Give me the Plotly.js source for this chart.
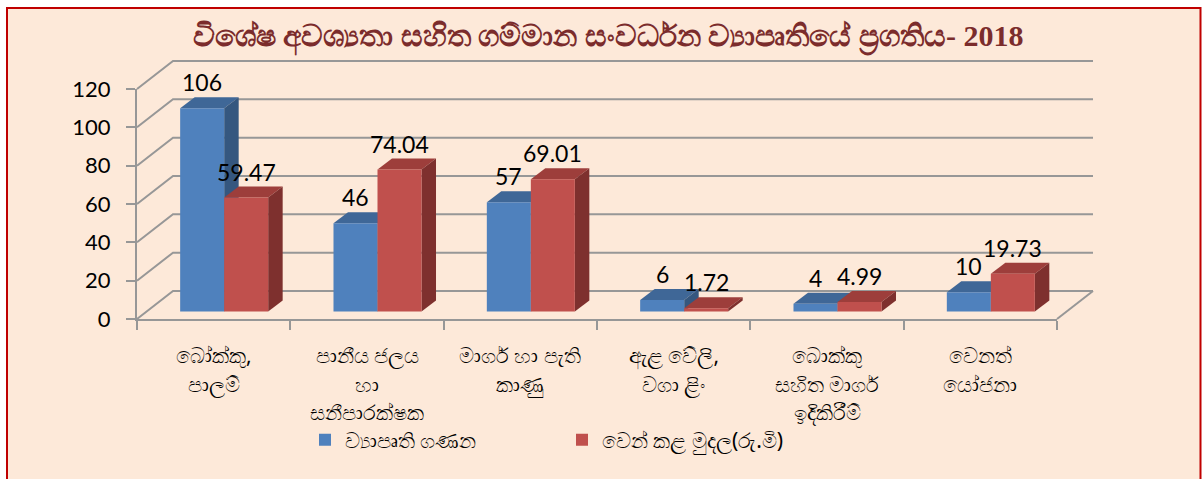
<!DOCTYPE html>
<html>
<head>
<meta charset="utf-8">
<script src="https://cdn.plot.ly/plotly-3.0.1.min.js"></script>
<style>html,body{margin:0;padding:0;background:#fff;}#chart{width:1202px;height:479px;}</style>
</head>
<body>
<div id="chart"></div>
<script>
// ---- data ----
const titleText = 'විශේෂ අවශ්‍යතා සහිත ගම්මාන සංවර්ධන ව්‍යාපෘතියේ ප්‍රගතිය- 2018';
const categoryLines = [
  ['බෝක්කු,', 'පාලම්'],
  ['පානීය ජලය', 'හා', 'සනීපාරක්ෂක'],
  ['මාර්ග හා පැති', 'කාණු'],
  ['ඇළ වේලි,', 'වගා ළිං'],
  ['බොක්කු', 'සහිත මාර්ග', 'ඉදිකිරීම්'],
  ['වෙනත්', 'යෝජනා']
];
const seriesNames = ['ව්‍යාපෘති ගණන', 'වෙන් කළ මුදල(රු.මි)'];
const projectCount = [106, 46, 57, 6, 4, 10];
const allocatedMoney = [59.47, 74.04, 69.01, 1.72, 4.99, 19.73];
const yTicks = [0, 20, 40, 60, 80, 100, 120];

// ---- geometry / style ----
const W = 1202, H = 479;
const L = 137, R = 1057, T = 89, B = 319;
const PW = R - L, PH = B - T;
const nCat = categoryLines.length;
const XU = PW / nCat;          // px per category
const YU = PH / 120;           // px per value unit
const depthX = 36, depthY = 28; // back wall offset (px)
const barDX = 10.5, barDY = 7.5; // bar front plane offset (px)
const faceDX = 14.5, faceDY = 11; // bar depth (px)
const bargap = 0.426;
const barW = (1 - bargap) / 2;
const grid = '#979797';
const colors = {
  front: ['#4f81bd', '#c0504d'],
  top:   ['#3f6797', '#9d3e3b'],
  side:  ['#35577f', '#7e302e']
};
const px2paperX = px => (px - L) / PW;
const px2paperY = py => (B - py) / PH;

const shapes = [];
// background frame
shapes.push({type:'rect', xref:'paper', yref:'paper', layer:'below',
  x0:px2paperX(7), x1:px2paperX(1200.5), y0:px2paperY(H + 5), y1:px2paperY(8),
  fillcolor:'#fde9d9', line:{color:'#c00000', width:2}});
// back wall grid lines + left side-wall slants
const dxp = depthX / PW, dyp = depthY / PH;
yTicks.forEach(v => {
  const yp = v / 120;
  shapes.push({type:'path', xref:'paper', yref:'paper', layer:'below',
    path:`M0,${yp} L${dxp},${yp + dyp} L${1 + dxp},${yp + dyp}`,
    line:{color:grid, width:2}});
});
// floor right edge
shapes.push({type:'line', xref:'paper', yref:'paper', layer:'below',
  x0:1, y0:0, x1:1 + dxp, y1:dyp, line:{color:grid, width:2}});

// bar 3-D faces (in bar axes units)
const ddx = faceDX / XU, ddy = faceDY / YU;
const series = [projectCount, allocatedMoney];
for (let i = 0; i < nCat; i++) {
  series.forEach((vals, s) => {
    const v = vals[i];
    const x0 = i - barW + s * barW, x1 = x0 + barW;
    // top
    shapes.push({type:'path', xref:'x2', yref:'y2', layer:'below',
      path:`M${x0},${v} L${x1},${v} L${x1 + ddx},${v + ddy} L${x0 + ddx},${v + ddy} Z`,
      fillcolor:colors.top[s], line:{width:0}});
    // side
    shapes.push({type:'path', xref:'x2', yref:'y2', layer:'below',
      path:`M${x1},0 L${x1},${v} L${x1 + ddx},${v + ddy} L${x1 + ddx},${ddy} Z`,
      fillcolor:colors.side[s], line:{width:0}});
  });
}

const annotations = [];
// data labels
series.forEach((vals, s) => {
  vals.forEach((v, i) => {
    annotations.push({xref:'x2', yref:'y2', x: i - barW / 2 + s * barW, y: v,
      text: String(v), showarrow:false, yshift: 26, yanchor:'middle',
      font:{family:'Lato, sans-serif', size:23, color:'#000'}});
  });
});
// category labels
categoryLines.forEach((lines, i) => {
  lines.forEach((ln, j) => {
    annotations.push({xref:'x', yref:'paper', x:i, y:px2paperY(355 + 28.5 * j),
      text: ln, showarrow:false, yanchor:'middle', xanchor:'center',
      font:{family:'Noto Sans, sans-serif', size:21, color:'#000'}});
  });
});

const xs = categoryLines.map((_, i) => i);
const data = [
  {type:'bar', name:seriesNames[0], x:xs, y:projectCount, xaxis:'x2', yaxis:'y2',
   marker:{color:colors.front[0], line:{width:0}}, hoverinfo:'skip'},
  {type:'bar', name:seriesNames[1], x:xs, y:allocatedMoney, xaxis:'x2', yaxis:'y2',
   marker:{color:colors.front[1], line:{width:0}}, hoverinfo:'skip'}
];

const boundaryTicks = [];
for (let k = 0; k <= nCat; k++) boundaryTicks.push(k - 0.5);

const layout = {
  width: W, height: H,
  paper_bgcolor:'#ffffff', plot_bgcolor:'rgba(0,0,0,0)',
  margin:{l:L, r:W - R, t:T, b:H - B, pad:0},
  title:{text:titleText, x:0.506, xref:'container', y:1 - 35 / H, yref:'container',
    xanchor:'center', yanchor:'middle',
    font:{family:'Liberation Serif, serif', size:30, color:'#7b2c2c', weight:'bold'}},
  barmode:'group', bargap:bargap, bargroupgap:0,
  showlegend:true,
  legend:{orientation:'h', x:px2paperX(305), xanchor:'left', y:px2paperY(440), yanchor:'middle',
    font:{family:'Noto Sans, sans-serif', size:21, color:'#000'}, entrywidth:212,
    bgcolor:'rgba(0,0,0,0)'},
  xaxis:{range:[-0.5, nCat - 0.5], tickvals:boundaryTicks, ticks:'outside', ticklen:9, tickwidth:2,
    tickcolor:grid, showticklabels:false, showline:true, linecolor:grid, linewidth:2,
    showgrid:false, zeroline:false, fixedrange:true},
  yaxis:{range:[0, 120], tickvals:yTicks, ticks:'outside', ticklen:9, tickwidth:2, tickcolor:grid,
    showline:true, linecolor:grid, linewidth:2, showgrid:false, zeroline:false,
    ticklabelstandoff:11, tickfont:{family:'Lato, sans-serif', size:22, color:'#000'}, fixedrange:true},
  xaxis2:{overlaying:'x', range:[-0.5 - barDX / XU, nCat - 0.5 - barDX / XU], visible:false, fixedrange:true},
  yaxis2:{overlaying:'y', range:[-barDY / YU, 120 - barDY / YU], visible:false, fixedrange:true},
  shapes: shapes,
  annotations: annotations
};

Plotly.newPlot('chart', data, layout, {displayModeBar:false, staticPlot:true});
</script>
</body>
</html>
